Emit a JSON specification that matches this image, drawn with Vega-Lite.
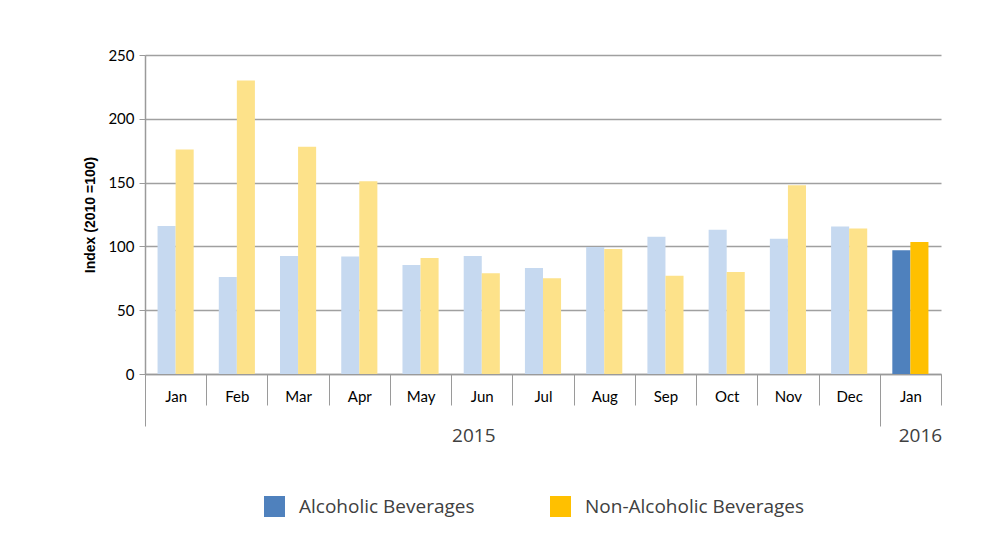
{
  "$schema": "https://vega.github.io/schema/vega-lite/v6.json",
  "width": 796,
  "height": 319,
  "autosize": {"type": "none"},
  "padding": {"left": 145, "top": 55, "right": 66, "bottom": 175},
  "background": "white",
  "config": {"view": {"stroke": null}, "font": "Lato"},
  "data": {
    "values": [
      {"period": "Jan 2015", "series": "Alcoholic", "key": "Alc 2015", "value": 116},
      {"period": "Jan 2015", "series": "Non-Alcoholic", "key": "Non 2015", "value": 176},
      {"period": "Feb 2015", "series": "Alcoholic", "key": "Alc 2015", "value": 76},
      {"period": "Feb 2015", "series": "Non-Alcoholic", "key": "Non 2015", "value": 230},
      {"period": "Mar 2015", "series": "Alcoholic", "key": "Alc 2015", "value": 92.5},
      {"period": "Mar 2015", "series": "Non-Alcoholic", "key": "Non 2015", "value": 178},
      {"period": "Apr 2015", "series": "Alcoholic", "key": "Alc 2015", "value": 92},
      {"period": "Apr 2015", "series": "Non-Alcoholic", "key": "Non 2015", "value": 151},
      {"period": "May 2015", "series": "Alcoholic", "key": "Alc 2015", "value": 85.5},
      {"period": "May 2015", "series": "Non-Alcoholic", "key": "Non 2015", "value": 91},
      {"period": "Jun 2015", "series": "Alcoholic", "key": "Alc 2015", "value": 92.5},
      {"period": "Jun 2015", "series": "Non-Alcoholic", "key": "Non 2015", "value": 79},
      {"period": "Jul 2015", "series": "Alcoholic", "key": "Alc 2015", "value": 83},
      {"period": "Jul 2015", "series": "Non-Alcoholic", "key": "Non 2015", "value": 75},
      {"period": "Aug 2015", "series": "Alcoholic", "key": "Alc 2015", "value": 99.5},
      {"period": "Aug 2015", "series": "Non-Alcoholic", "key": "Non 2015", "value": 98},
      {"period": "Sep 2015", "series": "Alcoholic", "key": "Alc 2015", "value": 107.5},
      {"period": "Sep 2015", "series": "Non-Alcoholic", "key": "Non 2015", "value": 77},
      {"period": "Oct 2015", "series": "Alcoholic", "key": "Alc 2015", "value": 113},
      {"period": "Oct 2015", "series": "Non-Alcoholic", "key": "Non 2015", "value": 80},
      {"period": "Nov 2015", "series": "Alcoholic", "key": "Alc 2015", "value": 106},
      {"period": "Nov 2015", "series": "Non-Alcoholic", "key": "Non 2015", "value": 148},
      {"period": "Dec 2015", "series": "Alcoholic", "key": "Alc 2015", "value": 115.5},
      {"period": "Dec 2015", "series": "Non-Alcoholic", "key": "Non 2015", "value": 114},
      {"period": "Jan 2016", "series": "Alcoholic", "key": "Alcoholic Beverages", "value": 97},
      {"period": "Jan 2016", "series": "Non-Alcoholic", "key": "Non-Alcoholic Beverages", "value": 103.5}
    ]
  },
  "encoding": {
    "y": {
      "field": "value", "type": "quantitative",
      "scale": {"domain": [0, 250], "nice": false},
      "axis": {
        "values": [0, 50, 100, 150, 200, 250],
        "title": "Index (2010 =100)", "titleFont": "Liberation Sans", "titleFontSize": 14,
        "titleFontWeight": "bold", "titleColor": "#000000", "titlePadding": 10,
        "labelFontSize": 15, "labelColor": "#000000", "labelFont": "Lato", "labelPadding": 5,
        "tickSize": 6, "tickColor": "#9A9A9A", "domainColor": "#9A9A9A", "domainWidth": 1.5,
        "gridColor": "#A0A0A0", "gridWidth": 1.5
      }
    }
  },
  "layer": [
    {
      "mark": {"type": "bar"},
      "encoding": {
        "x": {
          "field": "period", "type": "nominal", "sort": null,
          "scale": {"paddingInner": 0.41, "paddingOuter": 0.205},
          "axis": {
            "title": null, "orient": "bottom", "bandPosition": 0.5, "tickOffset": -30.6,
            "labelOffset": 30.6,
            "labelExpr": "split(datum.label, ' ')[0]", "labelAngle": 0,
            "tickSize": 31, "tickColor": "#9A9A9A", "tickWidth": 1,
            "domainColor": "#9A9A9A", "domainWidth": 1.5,
            "labelPadding": -16, "labelFontSize": 15, "labelColor": "#000000",
            "labelFont": "Lato", "grid": false
          }
        },
        "xOffset": {"field": "series", "type": "nominal", "sort": ["Alcoholic", "Non-Alcoholic"], "scale": {"paddingInner": 0, "paddingOuter": 0}},
        "color": {
          "field": "key", "type": "nominal",
          "scale": {
            "domain": ["Alcoholic Beverages", "Non-Alcoholic Beverages", "Alc 2015", "Non 2015"],
            "range": ["#4F81BD", "#FFC000", "#C6D9F0", "#FDE28A"]
          },
          "legend": {
            "title": null, "orient": "none", "legendX": 119, "legendY": 441,
            "direction": "horizontal", "columns": 2,
            "values": ["Alcoholic Beverages", "Non-Alcoholic Beverages"],
            "symbolType": "square", "symbolSize": 441, "symbolStrokeWidth": 0,
            "labelFontSize": 19, "labelFont": "Open Sans", "labelColor": "#404040",
            "labelOffset": 14, "columnPadding": 75, "labelLimit": 400
          }
        }
      }
    },
    {
      "mark": {"type": "bar", "opacity": 0},
      "encoding": {
        "x": {
          "field": "period", "type": "nominal", "sort": null,
          "axis": {
            "title": null, "orient": "bottom", "bandPosition": 0.5, "tickOffset": -30.6,
            "values": ["Jan 2015", "Jan 2016"],
            "labels": false,
            "tickSize": 52, "tickColor": "#9A9A9A", "tickWidth": 1,
            "domain": false, "grid": false
          }
        }
      }
    },
    {
      "mark": {"type": "bar", "opacity": 0},
      "encoding": {
        "x": {
          "field": "period", "type": "nominal", "sort": null,
          "axis": {
            "title": null, "orient": "bottom", "bandPosition": 0.5, "tickOffset": 30.6,
            "values": ["Jan 2016"],
            "labels": false,
            "tickSize": 31, "tickColor": "#9A9A9A", "tickWidth": 1,
            "domain": false, "grid": false
          }
        }
      }
    },
    {
      "mark": {"type": "bar", "opacity": 0},
      "encoding": {
        "x": {
          "field": "period", "type": "nominal", "sort": null,
          "axis": {
            "title": null, "orient": "bottom",
            "values": ["Jun 2015"], "labelOffset": -8,
            "labelExpr": "'2015'", "labelAngle": 0,
            "ticks": false, "domain": false, "grid": false,
            "labelPadding": 52, "labelFontSize": 19, "labelFont": "Open Sans", "labelColor": "#404040"
          }
        }
      }
    },
    {
      "mark": {"type": "bar", "opacity": 0},
      "encoding": {
        "x": {
          "field": "period", "type": "nominal", "sort": null,
          "axis": {
            "title": null, "orient": "bottom",
            "values": ["Jan 2016"], "labelOffset": 10,
            "labelExpr": "'2016'", "labelAngle": 0,
            "ticks": false, "domain": false, "grid": false,
            "labelPadding": 52, "labelFontSize": 19, "labelFont": "Open Sans", "labelColor": "#404040"
          }
        }
      }
    }
  ],
  "resolve": {"axis": {"x": "independent"}}
}
